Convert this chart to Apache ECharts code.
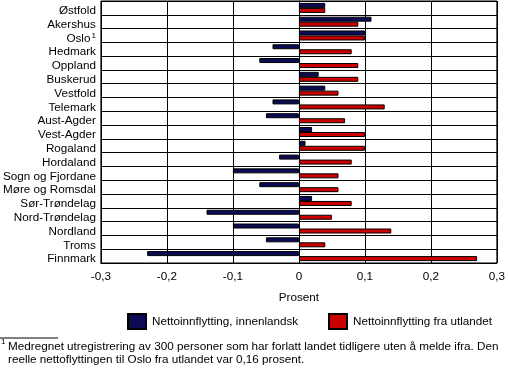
<!DOCTYPE html>
<html><head><meta charset="utf-8">
<script src="https://cdn.jsdelivr.net/npm/echarts@6/dist/echarts.min.js"></script>
<style>html,body{margin:0;padding:0;background:#fff}#c{width:508px;height:382px}</style>
</head><body><div id="c"></div>
<script>
const categories = ["Østfold","Akershus","Oslo","Hedmark","Oppland","Buskerud","Vestfold","Telemark","Aust-Agder","Vest-Agder","Rogaland","Hordaland","Sogn og Fjordane","Møre og Romsdal","Sør-Trøndelag","Nord-Trøndelag","Nordland","Troms","Finnmark"];
const innenlandsk = [0.04,0.11,0.10,-0.04,-0.06,0.03,0.04,-0.04,-0.05,0.02,0.01,-0.03,-0.10,-0.06,0.02,-0.14,-0.10,-0.05,-0.23];
const utlandet = [0.04,0.09,0.10,0.08,0.09,0.09,0.06,0.13,0.07,0.10,0.10,0.08,0.06,0.06,0.08,0.05,0.14,0.04,0.27];
const seriesNames = ["Nettoinnflytting, innenlandsk","Nettoinnflytting fra utlandet"];
const footnote = ["Medregnet utregistrering av 300 personer som har forlatt landet tidligere uten å melde ifra. Den","reelle nettoflyttingen til Oslo fra utlandet var 0,16 prosent."];

const FONT = "Liberation Sans";
const FS = 11.7;
const chart = echarts.init(document.getElementById('c'));
chart.setOption({
  animation:false,
  textStyle:{fontFamily:FONT},
  grid:{left:97,right:8.5,top:1,bottom:119,containLabel:false,show:true,borderColor:'#000',borderWidth:1},
  legend:[
    {data:[seriesNames[0]],left:127,top:313,padding:0,itemWidth:18,itemHeight:15,icon:'rect',textStyle:{fontFamily:FONT,fontSize:FS,color:'#000',padding:[0,0,0,1]}},
    {data:[seriesNames[1]],left:328,top:313,padding:0,itemWidth:18,itemHeight:15,icon:'rect',textStyle:{fontFamily:FONT,fontSize:FS,color:'#000',padding:[0,0,0,1]}}
  ],
  xAxis:{type:'value',min:-0.3,max:0.3,interval:0.1,
    axisLine:{show:true,lineStyle:{color:'#000'}},axisTick:{show:false},
    splitLine:{show:true,lineStyle:{color:'#000',width:1}},
    axisLabel:{color:'#000',fontSize:FS,margin:8,formatter:v=>{const r=Math.round(v*10)/10;return r===0?'0':String(r).replace('.',',');}},
    name:'Prosent',nameLocation:'middle',nameGap:29,nameTextStyle:{color:'#000',fontSize:FS}},
  yAxis:{type:'category',data:categories,inverse:true,
    axisLine:{show:true,lineStyle:{color:'#000'}},axisTick:{show:false},
    splitLine:{show:true,interval:0,lineStyle:{color:'#000',width:1}},
    axisLabel:{color:'#000',fontSize:FS,margin:5,interval:0,padding:[6,0,0,0],
      formatter:v=>v==='Oslo'?'Oslo{sup|1}':v,
      rich:{sup:{fontSize:8,verticalAlign:'top',padding:[0,0,6,1],color:'#000'}}}},
  series:[
    {name:seriesNames[0],type:'bar',data:innenlandsk,barWidth:5,barGap:'0%',itemStyle:{color:'#0a0a55',borderColor:'#000',borderWidth:1}},
    {name:seriesNames[1],type:'bar',data:utlandet,barWidth:5,barGap:'0%',itemStyle:{color:'#cc0000',borderColor:'#000',borderWidth:1}}
  ],
  graphic:[
    {type:'line',shape:{x1:0,y1:338,x2:58,y2:338},style:{stroke:'#000',lineWidth:1}},
    {type:'text',left:1,top:338,style:{text:'1',fontFamily:FONT,fontSize:8,fill:'#000'}},
    {type:'text',left:8,top:341,style:{text:footnote[0],fontFamily:FONT,fontSize:FS,fill:'#000'}},
    {type:'text',left:8,top:354,style:{text:footnote[1],fontFamily:FONT,fontSize:FS,fill:'#000'}}
  ]
});
</script></body></html>
